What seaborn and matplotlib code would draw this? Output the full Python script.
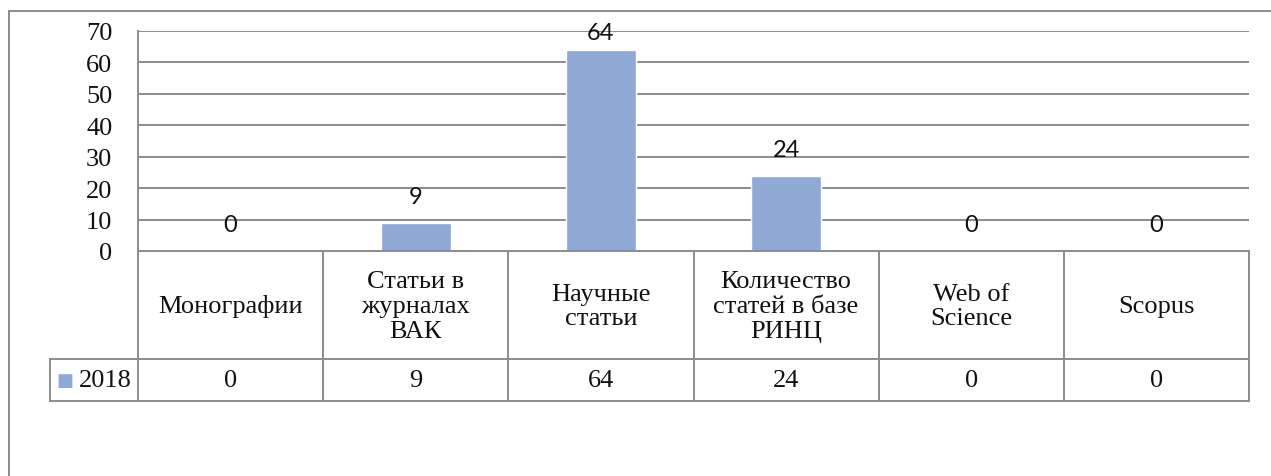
import matplotlib
matplotlib.use("Agg")
import matplotlib.pyplot as plt
import matplotlib.transforms as mtransforms
from matplotlib.patches import Rectangle
import pandas as pd
import seaborn as sns

categories = ["Монографии", "Статьи в\nжурналах\nВАК", "Научные\nстатьи",
              "Количество\nстатей в базе\nРИНЦ", "Web of\nScience", "Scopus"]
values = [0, 9, 64, 24, 0, 0]
series_name = "2018"
yticks = [0, 10, 20, 30, 40, 50, 60, 70]

BAR_COLOR = "#8FA8D6"
LINE_COLOR = "#8C8C8C"
SERIF = "Liberation Serif"
SANS = "Lato"
FS = 19

W, H = 1271, 477
sns.set_theme(style="white")
plt.rcParams["font.family"] = [SERIF, "DejaVu Serif"]

fig = plt.figure(figsize=(W / 100, H / 100), dpi=100)
fig.patch.set_facecolor("white")

# plot area placed in pixel terms (top-left origin)
left, top, right, bottom = 138, 32, 1249, 252
ax = fig.add_axes([left / W, 1 - bottom / H, (right - left) / W, (bottom - top) / H])

df = pd.DataFrame({"cat": range(len(categories)), "val": values})
sns.barplot(data=df, x="cat", y="val", color=BAR_COLOR, width=0.38,
            saturation=1, ax=ax, order=list(range(len(categories))))
ax.set_xlim(-0.5, len(categories) - 0.5)
ax.set_ylim(0, 70)
ax.set_yticks(yticks)
ax.set_yticklabels([str(t) for t in yticks], fontsize=FS, fontfamily=SERIF,
                   color="#111111")
ax.tick_params(axis="y", length=0, pad=18.5)
ax.set_xticks([])
ax.set_xlabel("")
ax.set_ylabel("")
ax.yaxis.grid(True, color=LINE_COLOR, linewidth=1.4)
ax.set_axisbelow(True)
for s in ["top", "right", "bottom"]:
    ax.spines[s].set_visible(False)
ax.spines["left"].set_color(LINE_COLOR)
ax.spines["left"].set_linewidth(1.4)

ph = bottom - top
px_per_unit = ph / 70

# data labels: 26 px above the bar, kept inside the plot area
for i, v in enumerate(values):
    bar_top_px = bottom - v * px_per_unit
    off_px = min(26, bar_top_px - (top + 2))
    ax.annotate(str(v), (i, v), xytext=(0, off_px * 0.72), textcoords="offset points",
                ha="center", va="center", fontsize=17, fontfamily=SANS,
                color="#111111")

# data table under the chart: x in data units, y in axes fraction
tr = mtransforms.blended_transform_factory(ax.transData, ax.transAxes)
def yf(py):
    return (bottom - py) / ph

n = len(categories)
row1, row2 = 360, 402
legend_left = -0.5 - (left - 50) / ((right - left) / n)
lw = 1.4
for k in range(n + 1):
    ax.plot([k - 0.5, k - 0.5], [yf(bottom), yf(row2)], transform=tr,
            color=LINE_COLOR, lw=lw, clip_on=False)
ax.plot([-0.5, n - 0.5], [yf(bottom), yf(bottom)], transform=tr,
        color=LINE_COLOR, lw=lw, clip_on=False)
for py in (row1, row2):
    ax.plot([legend_left, n - 0.5], [yf(py), yf(py)], transform=tr,
            color=LINE_COLOR, lw=lw, clip_on=False)
ax.plot([legend_left, legend_left], [yf(row1), yf(row2)], transform=tr,
        color=LINE_COLOR, lw=lw, clip_on=False)

for i, (c, v) in enumerate(zip(categories, values)):
    ax.text(i, yf((bottom + row1) / 2 + 1), c, transform=tr, ha="center",
            va="center", fontsize=FS, fontfamily=SERIF, linespacing=1.17,
            color="#111111")
    ax.text(i, yf((row1 + row2) / 2), str(v), transform=tr, ha="center",
            va="center", fontsize=FS, fontfamily=SERIF, color="#111111")

# legend key inside table
ax.text(legend_left + 0.035, yf((row1 + row2) / 2), "\u25A0", transform=tr,
        ha="left", va="center", fontsize=13, color=BAR_COLOR,
        fontfamily="DejaVu Sans")
ax.text(-0.5 - 0.035, yf((row1 + row2) / 2), series_name, transform=tr,
        ha="right", va="center", fontsize=FS, fontfamily=SERIF,
        color="#111111")

# outer chart border, running off the right and bottom
fig.add_artist(Rectangle((9 / W, -0.1), 1.2, 1.1 - 12 / H,
                         transform=fig.transFigure, fill=False,
                         edgecolor=LINE_COLOR, linewidth=1.4))

fig.savefig("out.png", dpi=100, facecolor="white")
